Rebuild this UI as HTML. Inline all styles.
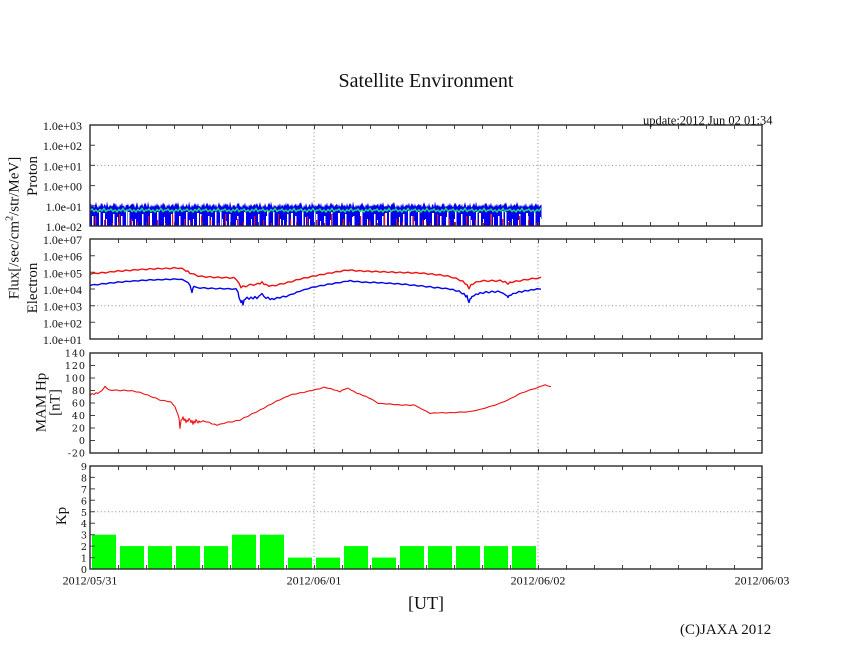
<!DOCTYPE html>
<html><head><meta charset="utf-8"><style>
html,body{margin:0;padding:0;background:#fff;}
svg{display:block;font-family:"Liberation Serif","Times New Roman",serif;}
.t12{font-size:12px;fill:#111;}
.tn{font-family:"DejaVu Serif","Liberation Serif",serif;font-size:9.6px;letter-spacing:0.9px;fill:#111;}
.lab{font-size:15px;fill:#111;}
</style></head><body>
<svg width="846" height="655" viewBox="0 0 846 655" xmlns="http://www.w3.org/2000/svg">
<rect width="846" height="655" fill="#fff"/>
<defs>
<clipPath id="c1"><rect x="90" y="125" width="672" height="101"/></clipPath>
<clipPath id="c2"><rect x="90" y="239" width="672" height="100"/></clipPath>
<clipPath id="c3"><rect x="90" y="353" width="672" height="100"/></clipPath>
<pattern id="tk" patternUnits="userSpaceOnUse" x="90" y="0" width="28" height="655">
<rect x="0" y="0" width="1" height="655" fill="#444"/>
</pattern>
<pattern id="pb" patternUnits="userSpaceOnUse" x="90" y="0" width="41" height="655">
<polygon fill="#0000ee" points="0,205 1,203.5 2,207 3,204 4,208 5,205.5 6,202 7,206 8,208.5 9,205 10,207 11,203 12,206.5 13,209 14,205 15,204 16,207.5 17,201.5 18,206 19,208 20,204.5 21,207 22,205 23,209 24,204 25,206.5 26,203 27,207.5 28,205.5 29,208 30,204 31,206 32,202.5 33,207 34,205 35,208.5 36,204.5 37,206.5 38,203.5 39,207 40,205.5 41,205 41,227 0,227"/>
</pattern>
<pattern id="pb2" patternUnits="userSpaceOnUse" x="90" y="0" width="31" height="655">
<polygon fill="#0000ee" points="0,208 2,206 4,209 6,204.5 8,208 10,207 12,203 14,208.5 16,206 18,209 20,205 22,207.5 24,202.5 26,207 28,209 30,206 31,208 31,227 0,227"/>
</pattern>
<pattern id="pw" patternUnits="userSpaceOnUse" x="90" y="0" width="29" height="655">
<g fill="#fff">
<rect x="2" y="216" width="1.5" height="11"/>
<rect x="9" y="212" width="1.5" height="15"/>
<rect x="16" y="219" width="1" height="8"/>
<rect x="23" y="214" width="1.5" height="13"/>
</g>
</pattern>
<pattern id="pw2" patternUnits="userSpaceOnUse" x="90" y="0" width="47" height="655">
<g fill="#fff">
<rect x="5" y="220" width="1" height="7"/>
<rect x="13" y="213" width="2" height="14"/>
<rect x="27" y="217" width="1" height="10"/>
<rect x="36" y="211" width="1.5" height="16"/>
<rect x="42" y="221" width="1" height="6"/>
</g>
</pattern>
<pattern id="pr" patternUnits="userSpaceOnUse" x="90" y="0" width="53" height="655">
<g fill="#ee1111">
<rect x="5" y="216" width="1.2" height="11"/>
<rect x="14" y="220" width="1.2" height="7"/>
<rect x="22" y="223" width="1" height="4"/>
<rect x="29" y="214" width="1.2" height="13"/>
<rect x="41" y="219" width="1.2" height="8"/>
<rect x="47" y="222" width="1" height="5"/>
</g>
</pattern>
<pattern id="pg" patternUnits="userSpaceOnUse" x="90" y="0" width="19" height="655">
<polyline fill="none" stroke="#1fd870" stroke-width="1.5" points="0,210.5 2,209 4,211.5 6,210 8,212 10,209.5 12,211 14,208.5 16,211.5 18,210 19,210.5"/>
</pattern>
</defs>

<!-- gridlines -->
<g stroke="#8a8a8a" stroke-width="1" stroke-dasharray="1,2.6" fill="none">
<path d="M314 125V226M538 125V226M90 165.4H762"/>
<path d="M314 239V339M538 239V339M90 305.7H762"/>
<path d="M314 353V453M538 353V453"/>
<path d="M314 466V569M538 466V569M90 511.8H762"/>
</g>

<!-- Kp bars -->
<g fill="#00ff00">
<rect x="92" y="534.7" width="24" height="34.3"/>
<rect x="120" y="546.1" width="24" height="22.9"/>
<rect x="148" y="546.1" width="24" height="22.9"/>
<rect x="176" y="546.1" width="24" height="22.9"/>
<rect x="204" y="546.1" width="24" height="22.9"/>
<rect x="232" y="534.7" width="24" height="34.3"/>
<rect x="260" y="534.7" width="24" height="34.3"/>
<rect x="288" y="557.6" width="24" height="11.4"/>
<rect x="316" y="557.6" width="24" height="11.4"/>
<rect x="344" y="546.1" width="24" height="22.9"/>
<rect x="372" y="557.6" width="24" height="11.4"/>
<rect x="400" y="546.1" width="24" height="22.9"/>
<rect x="428" y="546.1" width="24" height="22.9"/>
<rect x="456" y="546.1" width="24" height="22.9"/>
<rect x="484" y="546.1" width="24" height="22.9"/>
<rect x="512" y="546.1" width="24" height="22.9"/>
</g>

<!-- Proton data -->
<g clip-path="url(#c1)">
<rect x="90" y="195" width="451.5" height="32" fill="url(#pb)"/>
<rect x="90" y="195" width="451.5" height="32" fill="url(#pb2)"/>
<rect x="90" y="195" width="451.5" height="32" fill="url(#pw)"/>
<rect x="90" y="195" width="451.5" height="32" fill="url(#pw2)"/>
<rect x="90" y="195" width="451.5" height="32" fill="url(#pr)"/>
<rect x="90" y="195" width="451" height="32" fill="url(#pg)"/>
</g>

<!-- Electron data -->
<g clip-path="url(#c2)" fill="none" stroke-width="1.4" stroke-linejoin="round">
<polyline stroke="#ee1111" points="90,274.3 94,273 98,273.6 102,272.3 106,273 110,271.6 114,271.9 118,270.6 122,271.4 126,270.1 130,270.8 134,269.6 138,270.1 142,269 146,269.8 150,268.5 154,269.3 158,268.2 162,269 166,268 170,268.8 174,267.6 178,268.5 182,268.2 186,271.2 188,271 190,273.6 194,273.9 198,276.4 202,276 206,277.3 210,276.5 214,277.8 218,276.9 222,278.1 226,277.2 230,278.3 234,277.4 237,280.5 239,283.2 241,287.8 243,285.8 246,286.8 250,284.2 254,285.3 258,283.3 260,284 262,281.8 264,284.5 266,284.3 269,286.3 272,285.3 276,285.8 280,283.7 284,283.9 288,281.9 292,281.9 296,279.7 300,279.5 304,277.7 308,277.8 312,276 316,276.1 320,274.4 324,274.6 328,272.9 332,273.2 336,271.5 340,271.8 344,270.2 348,270.5 352,269.8 356,271.2 360,270.5 364,271.6 368,270.8 372,271.9 376,271.1 380,272.2 384,271.4 388,272.5 392,271.7 396,272.8 400,272 404,273.1 408,272.2 412,273.3 416,272.4 420,273.5 424,272.9 428,274.3 432,273.7 436,275.1 440,274.5 444,276.1 448,275.7 452,277.8 456,278 460,280.7 463,281 465,283.8 467,284.6 469,288.8 471,284.5 473,284.4 476,281.8 480,281.7 484,280.3 488,281.5 492,280.2 496,281.4 500,280.1 503,282.1 505,281.4 508,284.2 510,282 512,282.6 516,280.8 520,281.3 524,279.4 528,279.9 532,278.2 536,278.8 541,277.3"/>
<polyline stroke="#0000ee" points="90,285.4 94,284.5 98,284.9 102,283.5 106,283.9 110,282.7 114,283.1 118,281.8 122,282.3 126,281.2 130,281.6 134,280.7 138,281.1 142,280.1 146,280.6 150,279.6 154,280.2 158,279.4 162,279.9 166,279.1 170,279.7 174,278.8 178,279.4 182,279.3 186,281.5 188,282.5 190,285.3 191,289 192,292.5 193,288 194,286.3 197,287.5 200,288.3 204,287.6 208,288.7 212,288 216,289 220,288.2 224,289.1 228,288.4 232,289.3 236,288.7 238,292 239,297.5 240,300 241,302.5 242,300.5 243,305 244,300 245,299.5 247,297.2 249,299.2 251,297.1 253,298.9 255,296.5 257,298.6 259,296 261,294.5 262,293.5 264,296.5 266,298.4 268,297.2 270,299.6 272,298.5 274,299.5 277,297.5 280,298 283,296.2 286,296.9 290,294.6 294,293.8 297,291.9 300,291.4 304,289.6 308,288.9 312,287.2 316,287 320,285.5 324,285.6 328,283.9 332,284.2 336,282.7 340,282.8 344,281.4 348,281.3 350,280.4 354,281.7 358,281.3 362,282.5 366,281.9 370,282.8 374,282.1 378,283.1 382,282.5 386,283.5 390,282.9 394,284 398,283.4 402,284.6 406,284 410,285.4 414,284.9 418,286.1 422,285.6 426,287 430,286.4 434,288 438,287.3 442,288.6 446,288.2 450,289.5 453,289.3 456,291.2 459,290.8 462,293.8 464,293.5 466,297 467,295.5 468,300 469,302.5 470,299 471,298.5 472,296.5 474,295.8 476,294 478,294.5 480,292.6 483,293.5 486,291.5 489,292.8 492,291.1 495,292.4 498,291 501,292.5 503,293.2 505,294.6 507,295.8 508,297.5 509,295.5 511,295.2 513,293.4 516,293.3 519,291.4 522,292.2 525,290.4 528,291 531,289.6 534,290 537,288.7 541,289.2"/>
</g>

<!-- MAM data -->
<g clip-path="url(#c3)" fill="none" stroke-width="1.1" stroke-linejoin="round">
<polyline stroke="#ee1111" points="90,395.5 92,393.6 94,394.4 96,392.8 98,393.3 100,391.8 102,390.5 104,387.8 105,386.3 107,388.5 109,389.8 112,390.4 116,389.9 120,390.8 124,390.1 128,390.9 132,390.6 136,391.9 140,392.2 144,394.1 148,395 152,397.2 156,398 160,400.3 164,400.4 168,401.6 171,401.9 173,404.5 175,406.8 177,412.3 178,414.5 179,418.2 180,428.5 181,420.2 182,419.5 183,416.8 184,420.5 185,418.8 186,422.6 187,420 188,421.5 189,418.5 190,419.8 191,422.5 192,420.5 193,424.3 194,421 195,423 196,419.6 197,421.2 198,423 199,421 200,422.3 203,420.8 206,421.9 209,422.2 212,424 215,424.2 217,425.4 220,424.1 224,423.5 228,421.9 232,422.1 236,420.5 240,420.3 244,417.6 248,416.4 252,413.6 256,412.4 260,409.8 264,408.2 268,405.4 272,403.9 276,401.2 280,399.9 284,397.6 288,396.2 292,394.3 296,394.1 300,392.7 304,392.5 308,391.1 312,390.6 316,389.3 320,388.8 324,387.1 328,388.3 331,388.6 334,390 337,390.5 340,391.9 342,390.2 345,389.2 348,388.1 351,390.1 354,391.4 357,393.4 360,394 363,395.7 366,396.3 369,398.2 372,399.3 375,401.2 378,403.4 382,403.4 386,404.1 390,403.8 394,404.7 398,404.6 402,405.3 406,404.8 410,405.4 414,404.8 418,407 422,409.2 426,411 430,413.5 434,412.8 438,413 442,412.5 446,413.1 450,412.5 455,412.7 460,411.9 465,412.2 470,411.5 475,410.7 480,409.4 485,408.2 490,406.4 495,405.2 500,403.1 505,401.4 510,398.8 515,396.5 520,393.4 525,392 530,389.8 535,388.7 540,386.5 543,385.6 545,384.8 548,386 551,386.7"/>
</g>

<!-- x ticks (pattern) -->
<g fill="url(#tk)">
<rect x="100" y="125" width="652" height="4"/>
<rect x="100" y="222" width="652" height="4"/>
<rect x="100" y="239" width="652" height="4"/>
<rect x="100" y="335" width="652" height="4"/>
<rect x="100" y="353" width="652" height="4"/>
<rect x="100" y="449" width="652" height="4"/>
<rect x="100" y="466" width="652" height="4"/>
<rect x="100" y="565" width="652" height="4"/>
</g>
<!-- y ticks -->
<path stroke="#444" stroke-width="1" fill="none" d="M90 145.2h5M762 145.2h-5M90 165.4h5M762 165.4h-5M90 185.6h5M762 185.6h-5M90 205.8h5M762 205.8h-5
M90 255.7h5M762 255.7h-5M90 272.3h5M762 272.3h-5M90 289h5M762 289h-5M90 305.7h5M762 305.7h-5M90 322.3h5M762 322.3h-5
M90 365.5h5M762 365.5h-5M90 378h5M762 378h-5M90 390.5h5M762 390.5h-5M90 403h5M762 403h-5M90 415.5h5M762 415.5h-5M90 428h5M762 428h-5M90 440.5h5M762 440.5h-5
M90 477.4h5M762 477.4h-5M90 488.9h5M762 488.9h-5M90 500.3h5M762 500.3h-5M90 511.8h5M762 511.8h-5M90 523.2h5M762 523.2h-5M90 534.7h5M762 534.7h-5M90 546.1h5M762 546.1h-5M90 557.6h5M762 557.6h-5"/>

<!-- frames -->
<g stroke="#2a2a2a" stroke-width="1.4" fill="none">
<rect x="90" y="125" width="672" height="101"/>
<rect x="90" y="239" width="672" height="100"/>
<rect x="90" y="353" width="672" height="100"/>
<rect x="90" y="466" width="672" height="103"/>
</g>

<!-- title etc -->
<text x="426" y="87" font-size="20" text-anchor="middle" fill="#111">Satellite Environment</text>
<text x="643" y="124.5" font-size="12.5" fill="#111">update:2012 Jun 02 01:34</text>
<text x="426" y="609" font-size="18" text-anchor="middle" fill="#111">[UT]</text>
<text x="680" y="634" font-size="15" fill="#111">(C)JAXA 2012</text>

<!-- y labels proton -->
<g class="t12" text-anchor="end">
<text x="82" y="130">1.0e+03</text>
<text x="82" y="150.2">1.0e+02</text>
<text x="82" y="170.4">1.0e+01</text>
<text x="82" y="190.6">1.0e+00</text>
<text x="82" y="210.8">1.0e-01</text>
<text x="82" y="231">1.0e-02</text>
</g>
<!-- electron -->
<g class="t12" text-anchor="end">
<text x="82" y="244">1.0e+07</text>
<text x="82" y="260.7">1.0e+06</text>
<text x="82" y="277.3">1.0e+05</text>
<text x="82" y="294">1.0e+04</text>
<text x="82" y="310.7">1.0e+03</text>
<text x="82" y="327.3">1.0e+02</text>
<text x="82" y="344">1.0e+01</text>
</g>
<!-- MAM -->
<g class="tn" text-anchor="end">
<text x="85.9" y="356.6">140</text>
<text x="85.9" y="369.1">120</text>
<text x="85.9" y="381.6">100</text>
<text x="85.9" y="394.1">80</text>
<text x="85.9" y="406.6">60</text>
<text x="85.9" y="419.1">40</text>
<text x="85.9" y="431.6">20</text>
<text x="85.9" y="444.1">0</text>
<text x="85.9" y="456.6">-20</text>
</g>
<!-- Kp -->
<g class="tn" text-anchor="end">
<text x="87.9" y="470">9</text>
<text x="87.9" y="481.4">8</text>
<text x="87.9" y="492.9">7</text>
<text x="87.9" y="504.3">6</text>
<text x="87.9" y="515.8">5</text>
<text x="87.9" y="527.2">4</text>
<text x="87.9" y="538.7">3</text>
<text x="87.9" y="550.1">2</text>
<text x="87.9" y="561.5">1</text>
<text x="87.9" y="573">0</text>
</g>

<!-- x labels -->
<g class="t12" text-anchor="middle">
<text x="90" y="584.5">2012/05/31</text>
<text x="314" y="584.5">2012/06/01</text>
<text x="538" y="584.5">2012/06/02</text>
<text x="762" y="584.5">2012/06/03</text>
</g>

<!-- axis titles -->
<text class="lab" transform="translate(18.5,228) rotate(-90)" text-anchor="middle">Flux[/sec/cm<tspan font-size="10" dy="-6">2</tspan><tspan dy="6">/str/MeV]</tspan></text>
<text class="lab" transform="translate(37,176) rotate(-90)" text-anchor="middle">Proton</text>
<text class="lab" transform="translate(37,288) rotate(-90)" text-anchor="middle">Electron</text>
<text class="lab" transform="translate(45.5,402.5) rotate(-90)" text-anchor="middle">MAM Hp</text>
<text class="lab" transform="translate(59.5,402.5) rotate(-90)" text-anchor="middle">[nT]</text>
<text class="lab" transform="translate(66,516) rotate(-90)" text-anchor="middle">Kp</text>
</svg>
</body></html>
